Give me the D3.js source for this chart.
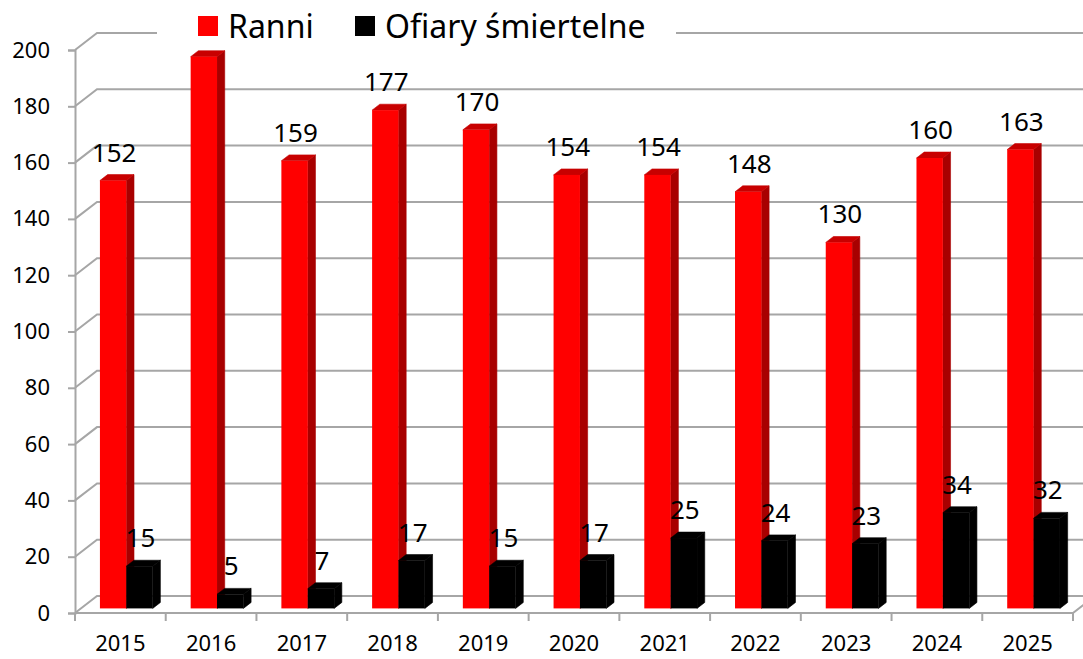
<!DOCTYPE html>
<html>
<head>
<meta charset="utf-8">
<script src="https://cdn.jsdelivr.net/npm/d3@7"></script>
<style>
  body { margin: 0; background: #fff; }
  svg { display: block; font-family: "Noto Sans", "Open Sans", sans-serif; }
</style>
</head>
<body>
<div id="chart"></div>
<script>
const years = ["2015", "2016", "2017", "2018", "2019", "2020", "2021", "2022", "2023", "2024", "2025"];
const injured = [152, 196, 159, 177, 170, 154, 154, 148, 130, 160, 163];
const deaths = [15, 5, 7, 17, 15, 17, 25, 24, 23, 34, 32];
const seriesNames = ["Ranni", "Ofiary śmiertelne"];
// labels hidden behind the legend in the original
const hiddenLabels = [{ series: 0, year: "2016" }];

const width = 1083;
const height = 659;
const plot = { left: 75, right: 1073, top: 50, bottom: 613 };
const DX = 22, DY = -17; // depth of the back wall
const f0 = 0.27, f1 = 0.62; // bar depth range (fraction of wall depth)

const colors = [
  { front: "#ff0000", side: "#a80000", top: "#c80000" },
  { front: "#000000", side: "#000000", top: "#000000" },
];

const svg = d3
  .select("#chart")
  .append("svg")
  .attr("width", width)
  .attr("height", height)
  .attr("viewBox", `0 0 ${width} ${height}`);

const x = d3.scaleBand().domain(years).range([plot.left, plot.right]);
const xs = d3
  .scaleBand()
  .domain([0, 1])
  .range([0, x.bandwidth()])
  .paddingInner(0)
  .paddingOuter(0.72);
const y = d3.scaleLinear().domain([0, 200]).range([plot.bottom, plot.top]);

const gridColor = "#a6a6a6";
const ticks = y.ticks(10);

// back wall gridlines
svg
  .append("g")
  .attr("class", "gridlines")
  .selectAll("polyline")
  .data(ticks)
  .join("polyline")
  .attr("points", (d) =>
    [
      [plot.left, y(d)],
      [plot.left + DX, y(d) + DY],
      [plot.right + DX, y(d) + DY],
    ].join(" ")
  )
  .style("fill", "none")
  .style("stroke", gridColor)
  .style("stroke-width", 2);

// floor front edge
svg
  .append("polyline")
  .attr("points", [
    [plot.left, plot.bottom],
    [plot.right, plot.bottom],
    [plot.right + DX, plot.bottom + DY],
  ].join(" "))
  .style("fill", "none")
  .style("stroke", gridColor)
  .style("stroke-width", 2);

// bars
const bars = [];
years.forEach((yr, i) => {
  [injured[i], deaths[i]].forEach((v, s) => {
    bars.push({ year: yr, value: v, series: s });
  });
});

const ox0 = DX * f0, oy0 = DY * f0;
const ox1 = DX * f1, oy1 = DY * f1;

const barG = svg
  .append("g")
  .attr("class", "bars")
  .selectAll("g")
  .data(bars)
  .join("g");

function geom(d) {
  const xl = x(d.year) + xs(d.series) + ox0;
  const xr = xl + xs.bandwidth();
  const yt = y(d.value) + oy0;
  const yb = y(0) + oy0;
  return { xl, xr, yt, yb, ddx: ox1 - ox0, ddy: oy1 - oy0 };
}

barG
  .append("polygon")
  .attr("points", (d) => {
    const g = geom(d);
    return [
      [g.xr, g.yb],
      [g.xr + g.ddx, g.yb + g.ddy],
      [g.xr + g.ddx, g.yt + g.ddy],
      [g.xr, g.yt],
    ].join(" ");
  })
  .style("fill", (d) => colors[d.series].side)
  .style("stroke", (d) => colors[d.series].side)
  .style("stroke-width", 0.6);

barG
  .append("polygon")
  .attr("points", (d) => {
    const g = geom(d);
    return [
      [g.xl, g.yt],
      [g.xl + g.ddx, g.yt + g.ddy],
      [g.xr + g.ddx, g.yt + g.ddy],
      [g.xr, g.yt],
    ].join(" ");
  })
  .style("fill", (d) => colors[d.series].top)
  .style("stroke", (d) => colors[d.series].top)
  .style("stroke-width", 0.6);

barG
  .append("rect")
  .attr("x", (d) => geom(d).xl)
  .attr("y", (d) => geom(d).yt)
  .attr("width", xs.bandwidth())
  .attr("height", (d) => geom(d).yb - geom(d).yt)
  .style("fill", (d) => colors[d.series].front);

// value labels
svg
  .append("g")
  .attr("class", "labels")
  .selectAll("text")
  .data(
    bars.filter(
      (d) => !hiddenLabels.some((h) => h.series === d.series && h.year === d.year)
    )
  )
  .join("text")
  .attr("x", (d) => geom(d).xl + xs.bandwidth() / 2 + 1)
  .attr("y", (d) => geom(d).yt - 19)
  .attr("text-anchor", "middle")
  .style("font-size", "26px")
  .style("fill", "#000")
  .text((d) => d.value);

// y axis
const yAxis = svg
  .append("g")
  .attr("transform", `translate(${plot.left}, 0)`)
  .call(d3.axisLeft(y).ticks(10).tickSize(7).tickPadding(18));
yAxis.select(".domain").style("stroke", gridColor).style("stroke-width", 2);
yAxis.selectAll("line").style("stroke", gridColor).style("stroke-width", 2);
yAxis
  .selectAll("text")
  .style("font-size", "22px")
  .style("font-family", "Noto Sans, sans-serif")
  .style("fill", "#000");

// x axis: ticks at category boundaries, labels at centers
const bounds = years.map((d) => x(d)).concat([plot.right]);
svg
  .append("g")
  .selectAll("line")
  .data(bounds)
  .join("line")
  .attr("x1", (d) => d)
  .attr("x2", (d) => d)
  .attr("y1", plot.bottom)
  .attr("y2", plot.bottom + 8)
  .style("stroke", gridColor)
  .style("stroke-width", 2);

const xAxis = svg
  .append("g")
  .attr("transform", `translate(0, ${plot.bottom})`)
  .call(d3.axisBottom(x).tickSize(0).tickPadding(22));
xAxis.select(".domain").remove();
xAxis
  .selectAll("text")
  .style("font-size", "22px")
  .style("font-family", "Noto Sans, sans-serif")
  .style("fill", "#000");

// legend
const legend = svg.append("g").attr("class", "legend");
legend
  .append("rect")
  .attr("x", 157)
  .attr("y", 0)
  .attr("width", 519)
  .attr("height", 46)
  .style("fill", "#fff");

const legendItems = [
  { name: seriesNames[0], color: colors[0].front, x: 198 },
  { name: seriesNames[1], color: colors[1].front, x: 355 },
];
const li = legend
  .selectAll("g.item")
  .data(legendItems)
  .join("g")
  .attr("class", "item")
  .attr("transform", (d) => `translate(${d.x}, 0)`);
li.append("rect")
  .attr("x", 0)
  .attr("y", 16)
  .attr("width", 20)
  .attr("height", 20)
  .style("fill", (d) => d.color);
li.append("text")
  .attr("x", 30)
  .attr("y", 38)
  .style("font-size", "32px")
  .style("fill", "#000")
  .text((d) => d.name);
</script>
</body>
</html>
